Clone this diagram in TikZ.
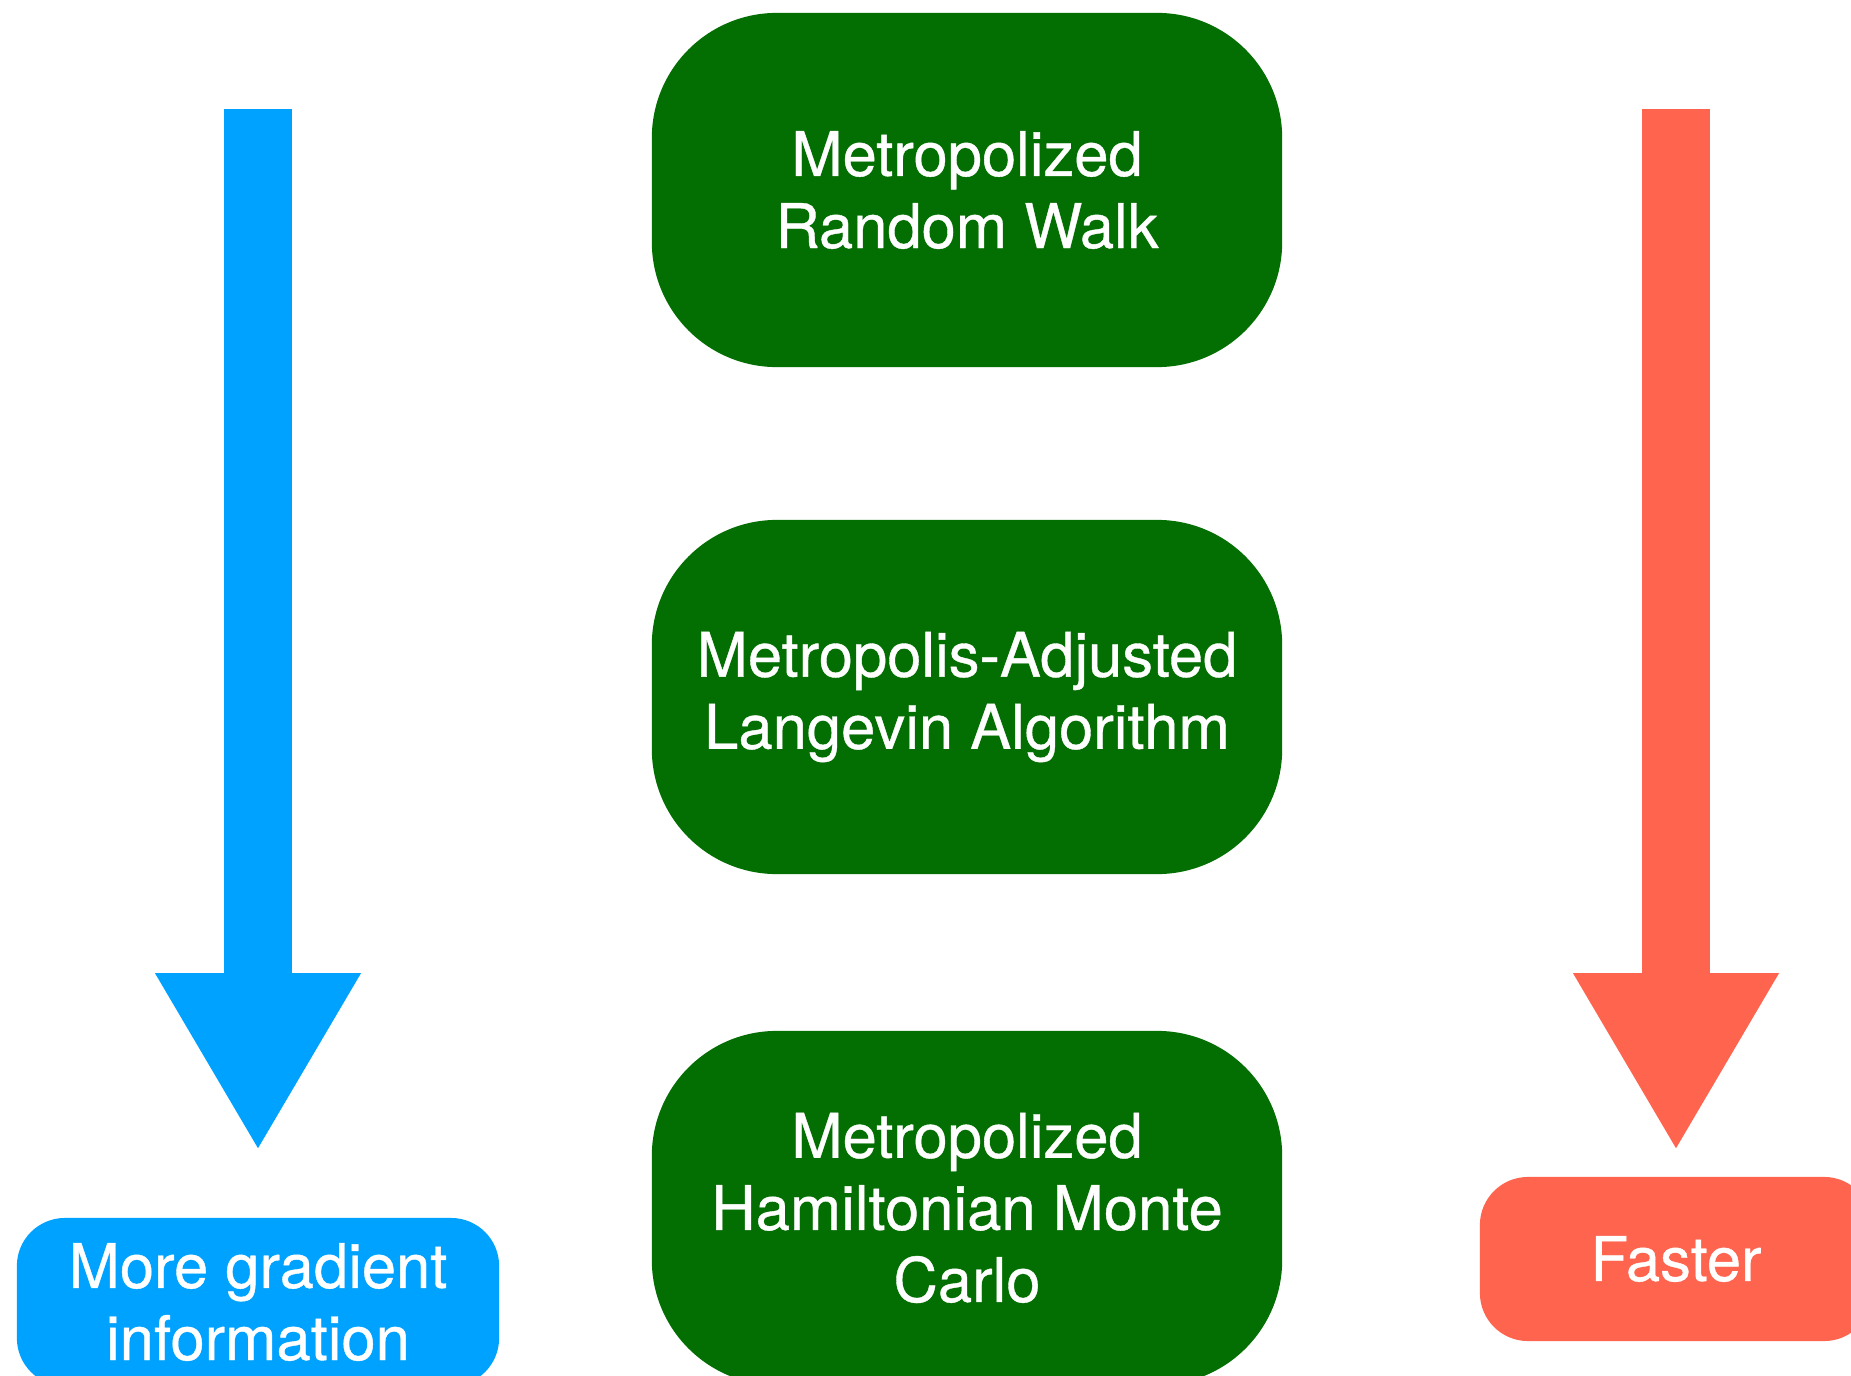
\documentclass[tikz,border=0pt]{standalone}
\usepackage{fontspec}
\setmainfont{TeX Gyre Heros}
\newfontfamily\boxfont{TeX Gyre Heros}[FakeBold=0.6]
\usetikzlibrary{arrows.meta}

\definecolor{mcmcgreen}{RGB}{3,110,2}
\definecolor{gradblue}{RGB}{0,162,255}
\definecolor{fastred}{RGB}{255,100,78}

\begin{document}
\begin{tikzpicture}[x=0.01cm,y=-0.01cm,
	boxtext/.style={text=white, align=center, inner sep=0pt, font=\boxfont\fontsize{17.5}{20.5}\selectfont},
	sampler/.style={boxtext, fill=mcmcgreen, rounded corners=1.25cm, minimum width=6.3cm, minimum height=3.54cm},
	tag/.style={boxtext, rounded corners=0.48cm},
	bigarrow/.style={line width=0.67cm, -{Triangle[width=2.06cm, length=1.75cm, line width=0pt]}}]
	\useasboundingbox (0,0) rectangle (1851,1376);
	\clip (0,0) rectangle (1851,1376);
	% samplers
	\node[sampler] (mrw) at (967,190) {Metropolized\\Random Walk};
	\node[sampler] (mala) at (967,697) {Metropolis-Adjusted\\Langevin Algorithm};
	\node[sampler] (mhmc) at (967,1208) {Metropolized\\Hamiltonian Monte\\Carlo};
	% tags
	\node[tag, fill=gradblue, minimum width=4.82cm, minimum height=1.68cm] (moregrad) at (258,1302) {More gradient\\information};
	\node[tag, fill=fastred, minimum width=3.92cm, minimum height=1.64cm] (faster) at (1676,1259) {Faster};
	% arrows
	\coordinate (gradtop) at (258,109);
	\coordinate (fasttop) at (1676,109);
	\draw[bigarrow, gradblue, shorten >=0.69cm] (gradtop) -- (moregrad.north);
	\draw[bigarrow, fastred, shorten >=0.28cm] (fasttop) -- (faster.north);
\end{tikzpicture}
\end{document}
